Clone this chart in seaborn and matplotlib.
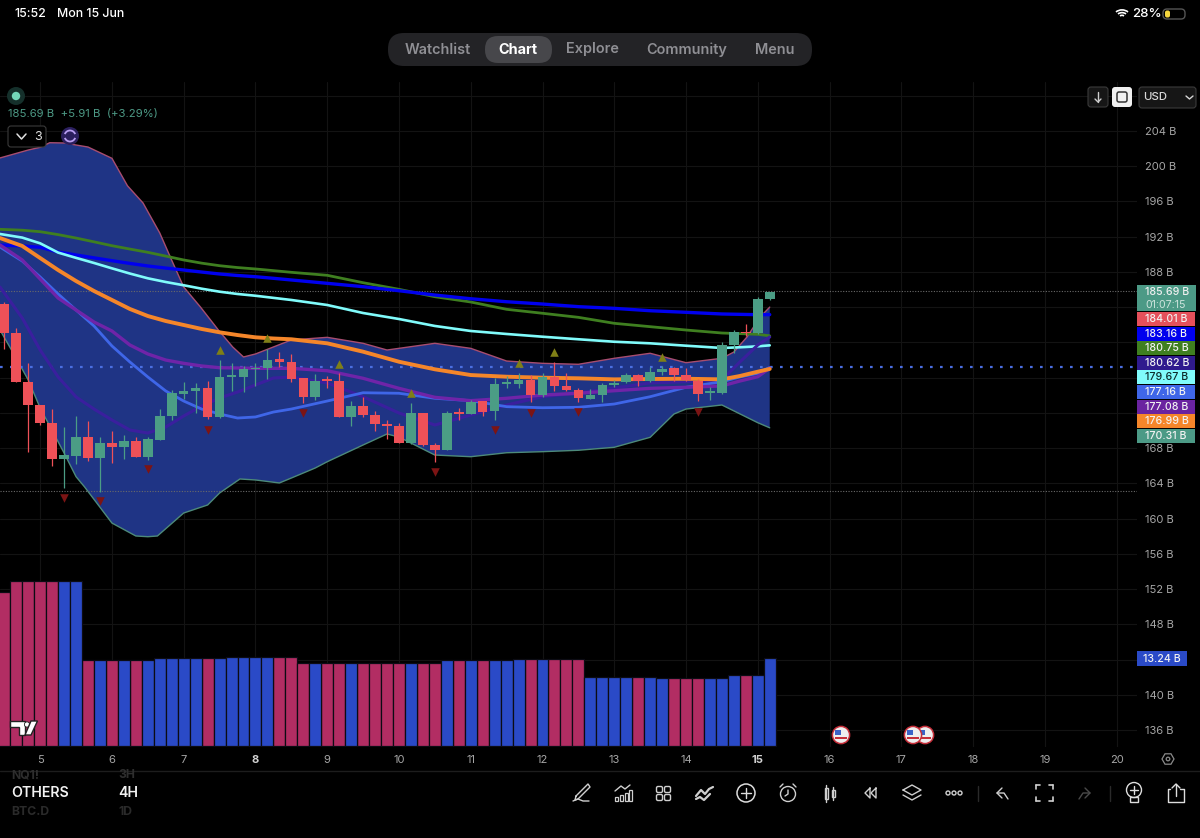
import numpy as np
import pandas as pd
import seaborn as sns
import matplotlib
matplotlib.use('Agg')
import matplotlib.pyplot as plt
from matplotlib.patches import Rectangle, FancyBboxPatch, Circle, Arc, Polygon

# candles, one per 4H bar
opens = [184.33, 181.04, 175.55, 172.90, 170.82, 166.77, 167.15, 169.30, 166.85, 168.62, 168.13, 168.78, 166.96,
         168.96, 171.61, 174.19, 174.49, 174.79, 171.50, 176.08, 176.08, 176.95, 177.14, 178.08, 177.78, 175.93,
         173.77, 175.74, 175.62, 171.54, 172.79, 171.76, 170.70, 170.55, 168.62, 171.95, 168.36, 167.79, 171.99,
         171.92, 173.32, 172.22, 175.28, 175.28, 175.74, 174.03, 176.12, 175.06, 174.57, 173.62, 174.00, 175.21,
         175.47, 176.34, 175.62, 176.65, 177.10, 176.34, 175.62, 174.30, 174.22, 179.71, 181.15, 181.04, 184.90]
highs = [184.63, 181.60, 177.63, 172.90, 172.41, 170.44, 171.65, 171.12, 169.30, 169.99, 169.50, 169.30, 169.30,
         172.41, 174.60, 175.55, 175.44, 175.66, 178.01, 177.63, 177.33, 177.63, 179.22, 178.95, 178.69, 175.96,
         176.42, 176.19, 176.50, 173.39, 173.85, 172.26, 171.20, 170.82, 173.16, 172.03, 168.62, 172.26, 172.52,
         173.47, 173.39, 175.93, 176.19, 176.57, 176.31, 176.50, 177.82, 176.57, 174.83, 174.75, 175.44, 175.74,
         176.57, 176.42, 177.18, 177.33, 177.18, 177.06, 175.81, 174.98, 180.05, 181.41, 182.06, 185.20, 185.77]
lows = [179.26, 175.55, 167.60, 170.63, 166.01, 163.44, 166.16, 166.58, 163.06, 166.28, 166.77, 166.96, 166.66,
        168.93, 171.20, 173.54, 172.03, 171.27, 171.39, 174.49, 174.41, 175.06, 175.81, 177.18, 175.55, 173.16,
        173.47, 174.79, 171.54, 170.52, 171.58, 169.95, 169.08, 168.55, 168.47, 168.25, 166.47, 167.79, 171.20,
        171.88, 171.69, 171.20, 174.79, 174.79, 173.20, 173.77, 174.53, 174.53, 173.20, 173.54, 173.28, 174.98,
        175.36, 175.06, 175.55, 176.31, 175.66, 175.66, 173.39, 173.47, 174.15, 178.84, 180.77, 180.96, 184.82]
closes = [181.04, 175.55, 172.90, 170.82, 166.77, 167.22, 169.30, 166.85, 168.55, 168.13, 168.78, 166.96, 169.04,
          171.61, 174.22, 174.49, 174.79, 171.50, 176.08, 176.19, 176.95, 177.10, 178.05, 177.78, 175.89, 173.77,
          175.62, 175.62, 171.54, 172.79, 171.73, 170.74, 170.52, 168.62, 171.95, 168.32, 167.75, 172.03, 171.92,
          173.28, 172.14, 175.28, 175.36, 175.74, 174.03, 176.12, 175.02, 174.57, 173.66, 174.03, 175.21, 175.44,
          176.34, 175.62, 176.61, 176.99, 176.34, 175.74, 174.15, 174.38, 179.75, 181.15, 181.04, 184.90, 185.69]

# volume, in billions, and which way each bar went
volumes = [23.1, 24.8, 24.8, 24.8, 24.8, 24.8, 24.8, 12.94, 12.94, 12.94, 12.94, 12.94, 12.94,
           13.24, 13.24, 13.24, 13.24, 13.24, 13.24, 13.4, 13.4, 13.4, 13.4, 13.4, 13.4,
           12.54, 12.54, 12.54, 12.54, 12.54, 12.54, 12.54, 12.54, 12.54, 12.54, 12.54, 12.54,
           12.94, 12.94, 12.94, 12.94, 12.94, 12.94, 13.05, 13.05, 13.05, 13.05, 13.05, 13.05,
           10.39, 10.39, 10.39, 10.39, 10.39, 10.39, 10.3, 10.23, 10.23, 10.23, 10.23, 10.23,
           10.69, 10.69, 10.69, 13.24]
volume_sides = list('rrrrrbb' 'rbrbrb' 'bbbbrb' 'bbbbrr' 'rbrrbrrrrbrr' 'brbrbb' 'brbrrr' 'bbbbrb' 'brrrbb' 'brbb')

# moving averages
ma_bars = [-0.36, 1.5, 3, 4.5, 6, 7.5, 9, 10.5, 12, 13.5, 15, 16.5, 18, 19.5, 21, 22.5, 24, 27, 30, 33, 36, 39,
           42, 45, 48, 51, 54, 57, 60, 61.5, 63, 64]
ma_green = [192.84, 192.74, 192.57, 192.24, 191.85, 191.42, 190.98, 190.60, 190.23, 189.80, 189.36, 189.00, 188.71,
            188.50, 188.34, 188.15, 187.96, 187.62, 186.78, 186.03, 185.19, 184.59, 183.76, 183.31, 182.85, 182.17,
            181.79, 181.41, 181.07, 181.00, 180.92, 180.75]
ma_blue = [191.06, 190.95, 190.80, 190.27, 189.93, 189.60, 189.28, 188.97, 188.68, 188.44, 188.22, 187.99, 187.77,
           187.60, 187.46, 187.28, 187.09, 186.71, 186.33, 185.87, 185.38, 184.96, 184.62, 184.36, 184.06, 183.87,
           183.60, 183.42, 183.23, 183.19, 183.15, 183.16]
ma_cyan = [192.31, 191.90, 191.25, 190.20, 189.60, 189.02, 188.41, 187.82, 187.28, 186.86, 186.49, 186.10, 185.76,
           185.50, 185.30, 185.06, 184.82, 184.25, 183.34, 182.66, 181.87, 181.30, 180.96, 180.65, 180.36, 180.08,
           179.90, 179.63, 179.37, 179.45, 179.56, 179.67]
ma_orange = [191.85, 190.95, 189.58, 188.22, 186.97, 185.84, 184.82, 183.80, 183.00, 182.43, 181.98, 181.53, 181.15,
             180.84, 180.58, 180.45, 180.36, 179.90, 178.95, 177.81, 176.95, 176.30, 176.11, 176.00, 175.93, 175.81,
             175.85, 175.88, 175.81, 176.19, 176.68, 176.99]
ma_purple = [191.06, 189.36, 187.20, 185.04, 183.68, 182.32, 181.30, 179.71, 178.69, 178.00, 177.63, 177.33, 177.13,
             177.10, 177.06, 177.06, 177.06, 176.79, 175.93, 174.79, 173.77, 173.39, 173.66, 174.03, 174.23, 174.52,
             174.79, 174.91, 175.06, 175.62, 176.11, 177.08]
ma_indigo = [186.29, 182.77, 179.14, 176.08, 173.81, 172.44, 171.20, 170.06, 169.72, 170.40, 171.65, 172.78, 173.69,
             174.37, 175.17, 175.96, 176.08, 175.40, 173.84, 171.99, 170.63, 171.76, 172.90, 173.84, 174.26, 174.83,
             175.40, 175.54, 175.74, 177.78, 179.71, 180.62]
ma_royal = [190.83, 189.24, 187.43, 185.50, 183.68, 181.87, 179.60, 177.78, 176.08, 174.49, 173.35, 172.44, 171.88,
            171.42, 171.54, 172.10, 172.44, 173.35, 174.29, 174.23, 173.66, 173.39, 172.71, 172.59, 172.64, 173.01,
            173.84, 174.91, 175.54, 176.08, 176.50, 177.16]

# bollinger band edges
upper_bars = [-0.36, 2, 3, 3.8, 5, 7, 9, 10.3, 11.6, 13, 14.1, 15, 16.4, 17.9, 19.1, 20, 21, 24, 27, 30, 32, 33, 36,
              39, 42, 45, 48, 51, 54, 57, 60, 61, 62.1, 63.2, 64]
upper_band = [200.94, 201.84, 202.15, 202.67, 202.64, 202.18, 200.90, 197.78, 195.83, 192.42, 189.02, 186.29, 184.02,
              181.41, 179.48, 178.35, 178.69, 180.28, 180.58, 179.90, 179.14, 179.33, 179.90, 179.33, 177.89, 177.63,
              177.52, 178.20, 178.77, 177.70, 178.20, 178.91, 180.62, 182.89, 184.01]
lower_bars = [-0.36, 1, 2, 3, 5, 6, 6.7, 9, 11, 12, 12.8, 15, 17, 18, 19.7, 21, 23, 24, 26, 27, 30, 32, 33, 36,
              39, 42, 45, 48, 51, 54, 56, 57, 60, 63, 64]
lower_band = [181.41, 178.20, 175.74, 172.56, 167.45, 164.76, 163.62, 159.50, 158.03, 157.95, 158.03, 160.64,
              161.55, 162.91, 164.50, 164.39, 164.05, 164.61, 165.75, 166.46, 168.36, 169.61, 169.26, 167.22,
              167.03, 167.48, 167.60, 167.76, 168.10, 169.23, 171.88, 172.44, 172.90, 170.89, 170.31]

# signal triangles
down_bars = [5, 8, 12, 17, 25, 36, 41, 44, 48, 58]
down_prices = [162.31, 162.00, 165.60, 170.06, 171.95, 165.26, 170.06, 172.03, 172.07, 172.14]
up_bars = [18, 22, 28, 34, 43, 46, 55]
up_prices = [179.14, 180.47, 177.55, 174.22, 177.71, 178.95, 178.31]

# axis labels and price tags
day_labels = ['5', '6', '7', '8', '9', '10', '11', '12', '13', '14', '15', '16', '17', '18', '19', '20']
price_ticks = list(range(136, 209, 4))
hidden_prices = [144, 172, 176, 180, 184, 208]  # covered by the tags
tag_labels = ['184.01 B', '183.16 B', '180.75 B', '180.62 B', '179.67 B', '177.16 B', '177.08 B', '176.99 B',
              '170.31 B']
tag_colors = ['#e5505b', '#0000ee', '#3f7f20', '#2f1a8e', '#80fbfb', '#3f66e8', '#6a23a0', '#f5862a', '#4c9a86']

RED = '#ee5158'
GREEN = '#4b9d85'
W, H = 1200, 838
LEFT, RIGHT, TOP, BOTTOM = 0, 1137, 82, 747


def bar_at(px):
    return (px - 4.3) / 11.96


def price_at(py):
    return 204 - (py - 131) / 8.81


sns.set_theme(style='dark', rc={'axes.facecolor': 'black', 'figure.facecolor': 'black'})
plt.rcParams['font.family'] = ['Inter', 'DejaVu Sans']

fig = plt.figure(figsize=(W / 100, H / 100), dpi=100)
pos = [LEFT / W, 1 - BOTTOM / H, (RIGHT - LEFT) / W, (BOTTOM - TOP) / H]
ax = fig.add_axes(pos, zorder=1)
vol_ax = fig.add_axes(pos, zorder=2)
vol_ax.patch.set_visible(False)

# volume pane, the dark edge makes the gap between bars
vol_df = pd.DataFrame({'bar': np.arange(len(volumes)), 'volume': volumes, 'side': volume_sides})
sns.barplot(data=vol_df, x='bar', y='volume', hue='side', palette={'r': '#b22d63', 'b': '#2a4ac7'},
            native_scale=True, dodge=False, width=1.0, saturation=1, legend=False, linewidth=0.9,
            edgecolor='#0c0c14', ax=vol_ax)
vol_ax.set_xlim(bar_at(LEFT), bar_at(RIGHT))
vol_ax.set_ylim(-1 / 6.65, (746 - TOP) / 6.65)
vol_ax.axis('off')

# band fill
ax.fill(np.r_[upper_bars, lower_bars[::-1]], np.r_[upper_band, lower_band[::-1]], color='#1f3485', lw=0, zorder=1)
sns.lineplot(x=upper_bars, y=upper_band, color='#a84d6f', linewidth=1, estimator=None, ax=ax, zorder=2)
sns.lineplot(x=lower_bars, y=lower_band, color='#4d8a7a', linewidth=1, estimator=None, ax=ax, zorder=2)

# moving averages
for vals, col, lw in [(ma_green, '#3f7f20', 2.0), (ma_blue, '#0000ee', 2.4), (ma_cyan, '#80fbfb', 1.9),
                      (ma_indigo, '#3a1f9e', 2.2), (ma_royal, '#3f66e8', 2.0), (ma_purple, '#6f24a8', 2.4),
                      (ma_orange, '#f5862a', 2.8)]:
    sns.lineplot(x=ma_bars, y=vals, color=col, linewidth=lw, estimator=None, ax=ax, zorder=3)

# price lines
ax.axhline(185.84, color='#6a6a6a', lw=0.8, ls=(0, (1, 1.4)), zorder=2)
ax.axhline(163.14, color='#6a6a6a', lw=0.8, ls=(0, (1, 1.4)), zorder=2)
ax.axhline(177.16, color='#4a6ee0', lw=1.6, ls=(0, (1.2, 3.3)), zorder=2)

# candles
bars = np.arange(len(opens))
opens_arr, closes_arr = np.array(opens), np.array(closes)
colors = [GREEN if c >= o else RED for o, c in zip(opens, closes)]
ax.vlines(bars, lows, highs, colors=colors, lw=0.9, zorder=4)
ax.bar(bars, np.maximum(np.abs(closes_arr - opens_arr), 0.18), bottom=np.minimum(opens_arr, closes_arr),
       width=0.8, color=colors, lw=0, zorder=5)

# signals
sns.scatterplot(x=down_bars, y=down_prices, marker='v', s=38, color='#7c1414', linewidth=0, ax=ax, zorder=6)
sns.scatterplot(x=up_bars, y=up_prices, marker='^', s=38, color='#7f7f17', linewidth=0, ax=ax, zorder=6)

ax.set_xlim(bar_at(LEFT), bar_at(RIGHT))
ax.set_ylim(price_at(BOTTOM), price_at(TOP))
ax.set_xlabel('')
ax.set_ylabel('')
ax.set_xticks([3 + 6 * k for k in range(len(day_labels))], day_labels)
ax.set_yticks(price_ticks, ['' if p in hidden_prices else f'{p} B' for p in price_ticks])
ax.yaxis.tick_right()
ax.tick_params(axis='x', length=0, pad=6, labelsize=8, labelcolor='#a6a6a6')
ax.tick_params(axis='y', length=0, pad=6, labelsize=8, labelcolor='#a6a6a6')
for lab in ax.get_xticklabels():
    if lab.get_text() in ('8', '15'):
        lab.set_fontweight('bold')
        lab.set_color('#d0d0d0')
ax.grid(True, color='#131313', lw=0.8)
ax.set_axisbelow(True)
for sp in ax.spines.values():
    sp.set_visible(False)

# everything that is screen chrome goes on a pixel overlay
ui = fig.add_axes([0, 0, 1, 1], zorder=5)
ui.set_xlim(0, W)
ui.set_ylim(H, 0)
ui.axis('off')


def box(x0, y0, x1, y1, fc='none', ec='none', r=3, lw=0.8, z=1):
    ui.add_patch(FancyBboxPatch((x0 + r, y0 + r), x1 - x0 - 2 * r, y1 - y0 - 2 * r,
                                boxstyle=f'round,pad={r},rounding_size={r}', fc=fc, ec=ec, lw=lw, zorder=z))


def label(x, y, s, size=8, color='white', weight='normal', ha='left'):
    ui.text(x, y, s, fontsize=size, color=color, fontweight=weight, ha=ha, va='center', zorder=6)


def stroke(xs, ys, color='#cfcfcf', lw=1.0):
    ui.plot(xs, ys, color=color, lw=lw, solid_capstyle='round', zorder=6)


# status bar
label(14, 14, '15:52', 8.9, weight='medium')
label(57, 14, 'Mon 15 Jun', 8.9, weight='medium')
label(1132, 14, '28%', 9.6, weight='medium')
for rad in (3, 6, 9):
    ui.add_patch(Arc((1122, 18), rad * 2, rad * 1.8, theta1=225, theta2=315, color='white', lw=1.2, zorder=6))
box(1163, 9, 1185, 19, ec='#555555', r=4, lw=1)
box(1165, 10.5, 1170, 17.5, fc='#f5d63d', r=2)

# nav pill
box(388, 33, 812, 66, fc='#232326', r=16)
box(485, 36, 552, 63, fc='#47474b', r=13, z=2)
for cx, name in [(438, 'Watchlist'), (592, 'Explore'), (687, 'Community'), (775, 'Menu')]:
    label(cx, 49.5, name, 10.4, '#8f8f94', 'semibold', 'center')
label(518, 49.5, 'Chart', 10.4, 'white', 'bold', 'center')

# symbol legend
ui.add_patch(Circle((16, 96), 9, fc='#15302b', ec='none'))
ui.add_patch(Circle((16, 96), 4.2, fc='#72d6b8', ec='none', zorder=3))
label(8, 114.5, '185.69 B  +5.91 B  (+3.29%)', 8.2, '#4d9a86')
box(8, 126, 46, 147, fc='black', ec='#3a3a3a', r=3, z=4)
stroke([17, 21.5, 26], [134, 139, 134], '#e0e0e0', 1.1)
label(38.5, 137, '3', 9, '#e0e0e0', ha='center')
ui.add_patch(Circle((70, 136), 9, fc='#2b1f5e', ec='none', zorder=4))
ui.add_patch(Arc((70, 136), 11, 11, theta1=200, theta2=340, color='#b79cf0', lw=1.3, zorder=6))
ui.add_patch(Arc((70, 136), 11, 11, theta1=20, theta2=160, color='#b79cf0', lw=1.3, zorder=6))

# top right buttons
box(1088, 87, 1108, 107, fc='#161616', ec='#3a3a3a', r=3)
stroke([1098, 1098], [92, 102])
stroke([1095, 1098, 1101], [99, 102, 99])
box(1112, 87, 1132, 107, fc='#f0f0f0', r=3)
box(1117, 92, 1127, 102, ec='#333333', r=2, lw=1.1, z=2)
box(1139, 87, 1196, 108, fc='#161616', ec='#3a3a3a', r=3)
label(1143, 97.5, 'USD', 8.2, '#d8d8d8', 'medium')
stroke([1186, 1189.5, 1193], [96, 99, 96], '#d8d8d8')

# price tags
ui.add_patch(Rectangle((1137, 285), 59, 26, fc='#4c9a86', ec='none'))
label(1145, 292, '185.69 B', 7.6, '#f0f0f0', 'medium')
label(1145, 304.5, '01:07:15', 7.6, '#cfe5de')
for k, (txt, col) in enumerate(zip(tag_labels, tag_colors)):
    y0 = 312 + 14.6 * k
    ui.add_patch(Rectangle((1137, y0), 57.5, 14, fc=col, ec='none'))
    tcol = '#0c2a2a' if col == '#80fbfb' else '#f2f2f2'
    label(1145, y0 + 7, txt, 7.6, tcol, 'medium')
ui.add_patch(Rectangle((1137, 651), 50, 15, fc='#2a4ac7', ec='none'))
label(1143, 658.5, '13.24 B', 7.6, '#f2f2f2', 'medium')

# chart logo
ui.add_patch(Polygon([[10, 721], [25, 721], [25, 735], [19, 735], [19, 727], [10, 727]], fc='white', ec='#222222', lw=1, zorder=6))
ui.add_patch(Circle((27, 724.5), 2.6, fc='white', ec='#222222', lw=0.6, zorder=6))
ui.add_patch(Polygon([[31, 721], [37.5, 721], [31, 735], [25, 735]], fc='white', ec='#222222', lw=1, zorder=6))

# event flags
for fx in (925, 913, 841):
    ui.add_patch(Circle((fx, 735), 8.6, fc='#eeeeee', ec='#c62f3a', lw=1.1, zorder=3))
    ui.add_patch(Rectangle((fx - 6, 730), 6, 5, fc='#3a63c8', ec='none', zorder=3))
    ui.add_patch(Rectangle((fx - 6, 737), 12, 2, fc='#c62f3a', ec='none', zorder=3))

# settings hexagon
ui.add_patch(Polygon([[1168 + 6 * np.cos(t), 759 + 6 * np.sin(t)] for t in np.arange(6) * np.pi / 3],
                     fc='none', ec='#8a8a8a', lw=0.9))
ui.add_patch(Circle((1168, 759), 1.8, fc='none', ec='#8a8a8a', lw=0.9))

# symbol picker
stroke([0, W], [770.5, 770.5], '#1d1d1d', 1)
label(11, 775, 'NQ1!', 8.8, '#2e2e2e', 'bold')
label(118, 775, '3H', 8.8, '#2e2e2e', 'bold')
label(11, 793, 'OTHERS', 10.2, '#f2f2f2', 'semibold')
label(118, 793, '4H', 10.2, '#f2f2f2', 'semibold')
label(11, 812, 'BTC.D', 8.8, '#2a2a2a', 'bold')
label(118, 812, '1D', 8.8, '#2a2a2a', 'bold')

# bottom toolbar
stroke([576, 588, 590, 578, 575, 576], [796, 784, 787, 799, 800, 796])
stroke([573, 578, 583, 589], [801, 799, 801, 801])
stroke([615, 621, 625, 630], [791, 786, 789, 785])
for bx, bh in [(615, 4), (620, 6), (625, 8), (629, 11)]:
    ui.add_patch(Rectangle((bx, 801 - bh), 3, bh, fc='none', ec='#cfcfcf', lw=0.9, zorder=6))
for gx in (656.5, 664.5):
    for gy in (786.5, 794.5):
        box(gx, gy, gx + 6, gy + 6, ec='#cfcfcf', r=1.5, lw=1)
stroke([696, 701, 705, 709, 713], [796, 790, 794, 789, 787], lw=1.6)
stroke([696, 700, 704, 710], [799, 797, 800, 794], lw=1.6)
ui.add_patch(Circle((746, 793), 9, fc='none', ec='#dddddd', lw=1.1))
stroke([741, 751], [793, 793], '#dddddd')
stroke([746, 746], [788, 798], '#dddddd')
ui.add_patch(Circle((788, 794), 7.5, fc='none', ec='#cfcfcf', lw=1))
stroke([788, 788, 785], [790, 794, 796])
stroke([780, 783], [787, 784])
stroke([793, 796], [784, 787])
for cx, cy0, cy1 in [(826, 788, 799), (833, 790, 797)]:
    ui.add_patch(Rectangle((cx - 1.5, cy0), 3, cy1 - cy0, fc='none', ec='#cfcfcf', lw=1, zorder=6))
    stroke([cx, cx], [cy0 - 3, cy1 + 3])
stroke([870, 865, 870, 870], [788, 793, 798, 788])
stroke([876, 871, 876, 876], [788, 793, 798, 788])
stroke([903, 912, 921, 912, 903], [790, 785, 790, 795, 790])
stroke([903, 912, 921], [795, 800, 795])
for dx in (948, 954, 960):
    ui.add_patch(Circle((dx, 793), 2, fc='none', ec='#cfcfcf', lw=1))
stroke([978, 978], [786, 801], '#2a2a2a')
stroke([1002, 997, 1002], [788, 793, 798])
stroke([997, 1004, 1008], [793, 793, 799])
for (x0, x1, y0, y1) in [(1036, 1040, 785, 785), (1049, 1053, 785, 785), (1036, 1040, 801, 801), (1049, 1053, 801, 801)]:
    stroke([x0, x1], [y0, y1], lw=1.2)
stroke([1036, 1036], [785, 789], lw=1.2)
stroke([1053, 1053], [785, 789], lw=1.2)
stroke([1036, 1036], [797, 801], lw=1.2)
stroke([1053, 1053], [797, 801], lw=1.2)
stroke([1085, 1090, 1085], [788, 793, 798], '#4a4a4a')
stroke([1090, 1083, 1079], [793, 793, 799], '#4a4a4a')
stroke([1110, 1110], [786, 801], '#2a2a2a')
ui.add_patch(Circle((1134, 790), 7.5, fc='none', ec='#dddddd', lw=1))
stroke([1130, 1138], [790, 790], '#dddddd')
stroke([1134, 1134], [786, 794], '#dddddd')
ui.add_patch(Rectangle((1130, 797), 8, 5, fc='none', ec='#dddddd', lw=1, zorder=6))
stroke([1170, 1168, 1168, 1184, 1184, 1180], [789, 789, 802, 802, 789, 789], '#dddddd')
stroke([1176, 1176], [784, 796], '#dddddd')
stroke([1172, 1176, 1180], [788, 784, 788], '#dddddd')

fig.savefig('out.png', dpi=100, facecolor='black')
